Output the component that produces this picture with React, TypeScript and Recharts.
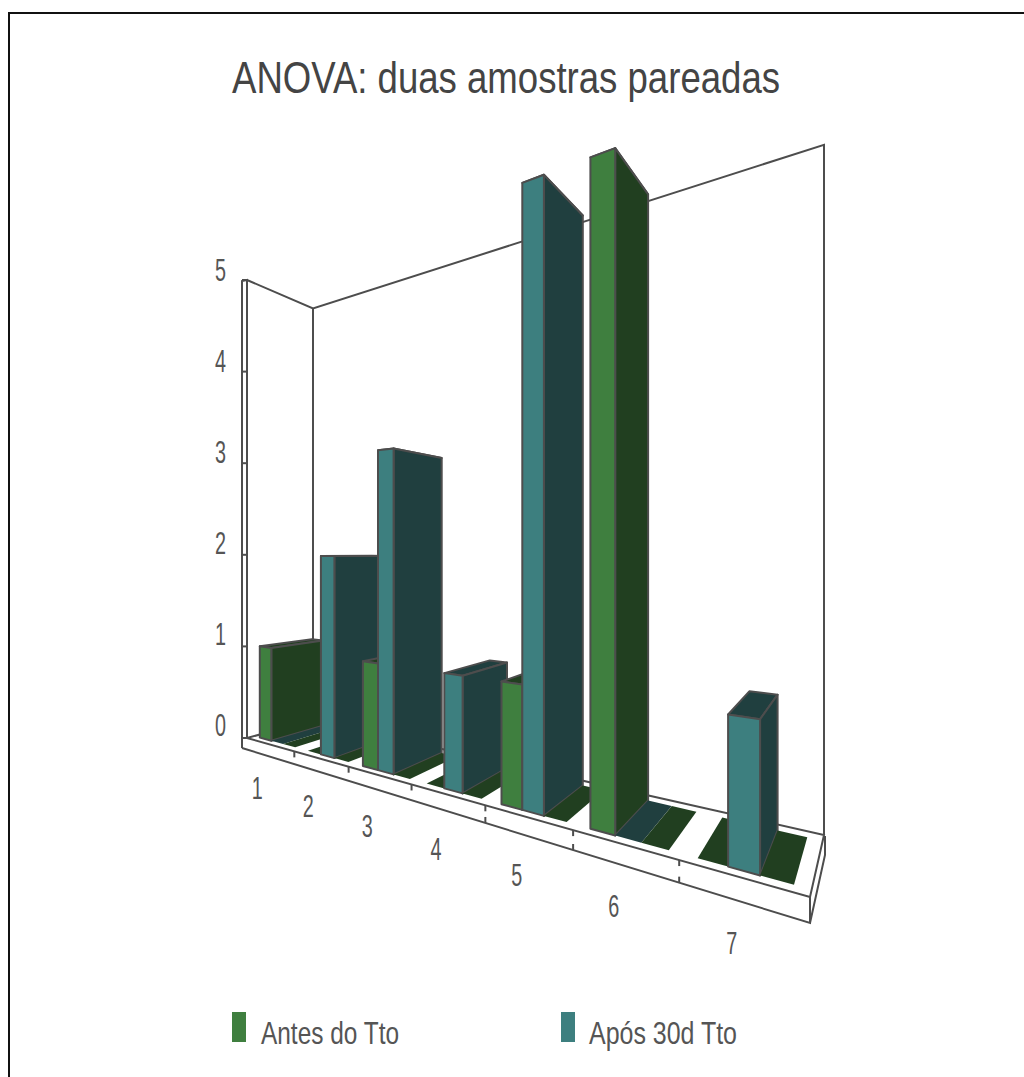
import { BarChart, Bar, XAxis, YAxis, Legend } from 'recharts';

const categories = ['1', '2', '3', '4', '5', '6', '7'];
const antesDoTto = [1, 0, 1, 0, 1, 5, 0];
const aposTto = [0, 2, 3, 1, 5, 0, 1];
const semRotulo = [0, 0, 0, 0, 0, 0, 0];
const yTicks = [0, 1, 2, 3, 4, 5];

const seriesValues = [antesDoTto, aposTto, semRotulo];
const faceColors = ['#3f7f3f', '#3d7f7f', '#3f7f3f'];
const sideColors = ['#213f20', '#203f3f', '#213f20'];
const legendNames = ['Antes do Tto', 'Após 30d Tto'];

// bars are laid out left to right so nearer ones paint over farther ones
const rows = categories.flatMap((_, i) =>
  seriesValues.map((values, s) => ({ pos: i + 0.25 + 0.25 * s, value: values[i], serie: s }))
);
const xTicks = Array.from({ length: categories.length * 2 + 1 }, (_, i) => i / 2);

// plot rectangle, the flat chart that gets projected onto the floor
const PLOT_LEFT = 247;
const PLOT_WIDTH = 563;
const PLOT_TOP = 280;
const PLOT_BOTTOM = 738;
const UNIT = (PLOT_BOTTOM - PLOT_TOP) / 5;

// floor corners with homogeneous weights: [x, y, w]
const FRONT_LEFT = [247, 738, 1.816];
const FRONT_RIGHT = [810, 897, 1];
const BACK_RIGHT = [824, 835, 1.205];
const BACK_LEFT = [313, 720, 2.021];
const HEIGHT_SCALE = UNIT * FRONT_LEFT[2];

const BAR_FRONT = 0.1;
const BAR_BACK = 0.89;
const LINE_COLOR = '#4d4d4d';

function project(u: number, d: number, v: number) {
  const a = (1 - u) * (1 - d);
  const b = u * (1 - d);
  const c = u * d;
  const e = (1 - u) * d;
  const wa = a * FRONT_LEFT[2];
  const wb = b * FRONT_RIGHT[2];
  const wc = c * BACK_RIGHT[2];
  const we = e * BACK_LEFT[2];
  const w = wa + wb + wc + we;
  const x = (wa * FRONT_LEFT[0] + wb * FRONT_RIGHT[0] + wc * BACK_RIGHT[0] + we * BACK_LEFT[0]) / w;
  const y = (wa * FRONT_LEFT[1] + wb * FRONT_RIGHT[1] + wc * BACK_RIGHT[1] + we * BACK_LEFT[1]) / w;
  return [x, y - (v * HEIGHT_SCALE) / w];
}

const toPoints = (pts: number[][]) => pts.map((p) => `${p[0].toFixed(1)},${p[1].toFixed(1)}`).join(' ');
const plotU = (x: number) => (x - PLOT_LEFT) / PLOT_WIDTH;

function BarPrism(props: any) {
  const { x, width, height, payload } = props;
  const u0 = plotU(x);
  const u1 = plotU(x + width);
  const v = (height || 0) / UNIT;
  const side = sideColors[payload.serie];

  const top = [
    project(u0, BAR_FRONT, v),
    project(u1, BAR_FRONT, v),
    project(u1, BAR_BACK, v),
    project(u0, BAR_BACK, v),
  ];
  if (v === 0) {
    return <polygon points={toPoints(top)} fill={side} />;
  }
  const sideFace = [project(u1, BAR_FRONT, 0), project(u1, BAR_BACK, 0), project(u1, BAR_BACK, v), project(u1, BAR_FRONT, v)];
  const front = [project(u0, BAR_FRONT, 0), project(u1, BAR_FRONT, 0), project(u1, BAR_FRONT, v), project(u0, BAR_FRONT, v)];
  const edge = { stroke: LINE_COLOR, strokeWidth: 2, strokeLinejoin: 'round' as const };
  return (
    <g>
      <polygon points={toPoints(top)} fill={side} {...edge} />
      <polygon points={toPoints(sideFace)} fill={side} {...edge} />
      <polygon points={toPoints(front)} fill={faceColors[payload.serie]} {...edge} />
    </g>
  );
}

// outer plate edge under the front of the floor
const outerY = (x: number) => 748 + 0.308 * (x - 242);

function CategoryTick(props: any) {
  const { x, payload } = props;
  const u = plotU(x);
  const [fx, fy] = project(u, 0, 0);
  if (Number.isInteger(payload.value)) {
    if (payload.value === 0 || payload.value === categories.length) return null;
    return (
      <g stroke={LINE_COLOR} strokeWidth={2}>
        <line x1={fx} y1={fy} x2={fx} y2={fy + 6} />
        {payload.value >= 4 && <line x1={fx} y1={outerY(fx) - 6} x2={fx} y2={outerY(fx)} />}
      </g>
    );
  }
  const label = categories[Math.floor(payload.value)];
  return (
    <text
      x={fx - 13 + 4 * u}
      y={fy + 53 + 25 * u}
      textAnchor="middle"
      fontFamily="Liberation Sans"
      fontSize={32}
      textLength={11}
      lengthAdjust="spacingAndGlyphs"
      fill="#555"
    >
      {label}
    </text>
  );
}

function ValueTick(props: any) {
  const { y, payload } = props;
  return (
    <g>
      <line x1={242} y1={y} x2={247} y2={y} stroke={LINE_COLOR} strokeWidth={2} />
      <text
        x={226}
        y={y + 1 - (5 - payload.value) * 0.6}
        textAnchor="end"
        fontFamily="Liberation Sans"
        fontSize={32}
        textLength={11}
        lengthAdjust="spacingAndGlyphs"
        fill="#555"
      >
        {payload.value}
      </text>
    </g>
  );
}

function Walls() {
  const line = { stroke: LINE_COLOR, strokeWidth: 2, fill: 'none' };
  const backLeftTop = project(0, 1, 5);
  const backRightTop = project(1, 1, 5);
  const frontLeftTop = project(0, 0, 5);
  return (
    <g>
      <polyline {...line} points={toPoints([[242, 748], [242, 281], frontLeftTop, [247, 738]])} />
      <polyline {...line} points={toPoints([frontLeftTop, backLeftTop, backRightTop, [824, 835]])} />
      <polyline {...line} points={toPoints([backLeftTop, [313, 720], [247, 738]])} />
      <polyline {...line} points={toPoints([[313, 720], [824, 835], [810, 897], [247, 738]])} />
      <polyline {...line} points={toPoints([[242, 748], [810, 923], [810, 897]])} />
      <polyline {...line} points={toPoints([[810, 923], [825, 855], [825, 836]])} />
    </g>
  );
}

function LegendContent() {
  const swatches = [232, 561];
  const labels = [
    { x: 261, length: 138 },
    { x: 589, length: 148 },
  ];
  return (
    <svg width={1024} height={60} style={{ display: 'block' }}>
      {legendNames.map((name, i) => (
        <g key={name}>
          <rect x={swatches[i]} y={11} width={14} height={30} fill={faceColors[i]} />
          <text
            x={labels[i].x}
            y={43}
            fontFamily="Liberation Sans"
            fontSize={32}
            textLength={labels[i].length}
            lengthAdjust="spacingAndGlyphs"
            fill="#555"
          >
            {name}
          </text>
        </g>
      ))}
    </svg>
  );
}

export default function App() {
  return (
    <div style={{ position: 'absolute', left: 0, top: 0, width: 1024, height: 1077, overflow: 'hidden', background: '#fff' }}>
      <div
        style={{
          position: 'absolute',
          left: 8,
          top: 12,
          right: 0,
          bottom: 0,
          borderTop: '2px solid #111',
          borderLeft: '2px solid #111',
        }}
      />
      <BarChart
        width={1024}
        height={1077}
        data={rows}
        margin={{ top: PLOT_TOP, right: 1024 - PLOT_LEFT - PLOT_WIDTH, bottom: 1077 - PLOT_BOTTOM - 1, left: 0 }}
        style={{ position: 'absolute', left: 0, top: 0 }}
      >
        <text
          x={232}
          y={93}
          fontFamily="Liberation Sans"
          fontSize={44}
          textLength={548}
          lengthAdjust="spacingAndGlyphs"
          fill="#444"
        >
          ANOVA: duas amostras pareadas
        </text>
        <Walls />
        <XAxis
          type="number"
          dataKey="pos"
          domain={[0, categories.length]}
          ticks={xTicks}
          interval={0}
          height={1}
          axisLine={false}
          tickLine={false}
          tick={CategoryTick}
        />
        <YAxis
          width={PLOT_LEFT}
          domain={[0, 5]}
          ticks={yTicks}
          interval={0}
          axisLine={false}
          tickLine={false}
          tick={ValueTick}
        />
        {/* a hair under the slot width, or recharts shrinks the bars to 90% */}
        <Bar
          dataKey="value"
          barSize={(PLOT_WIDTH * 0.25) / categories.length - 0.01}
          shape={BarPrism}
          isAnimationActive={false}
          legendType="none"
        />
        <Legend layout="horizontal" verticalAlign="middle" content={LegendContent} wrapperStyle={{ left: 0, top: 1001, width: 1024 }} />
      </BarChart>
    </div>
  );
}
